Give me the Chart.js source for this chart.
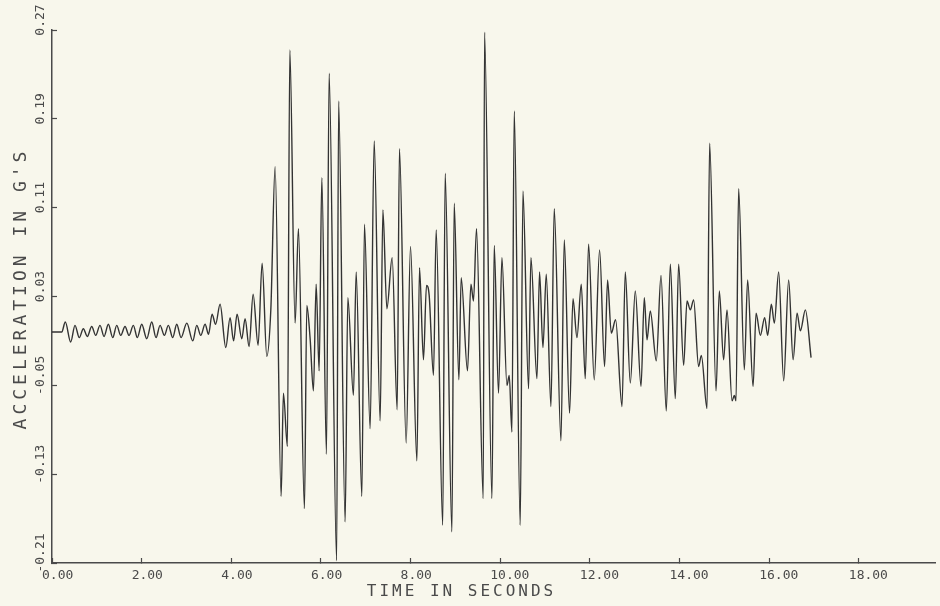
<!DOCTYPE html>
<html>
<head>
<meta charset="utf-8">
<script src="https://cdn.jsdelivr.net/npm/chart.js@4.4.1/dist/chart.umd.min.js"></script>
<style>
  html, body { margin: 0; padding: 0; background: #f8f7ec; }
  canvas { display: block; }
</style>
</head>
<body>
<canvas id="chart" width="940" height="606"></canvas>
<script>
// time (s) and acceleration (g) at the turning points
const times = [0, 0.217, 0.297, 0.417, 0.513, 0.609, 0.699, 0.788, 0.886, 0.975, 1.071, 1.161, 1.257, 1.355, 1.444, 1.533, 1.629, 1.719, 1.815, 1.904,
  2.002, 2.114, 2.225, 2.321, 2.411, 2.507, 2.596, 2.694, 2.783, 2.879, 3.007, 3.141, 3.230, 3.319, 3.415, 3.493, 3.571, 3.650, 3.750, 3.877,
  3.973, 4.051, 4.129, 4.234, 4.308, 4.397, 4.487, 4.598, 4.688, 4.792, 4.882, 4.978, 5.112, 5.163, 5.252, 5.306, 5.424, 5.498, 5.632, 5.685,
  5.759, 5.833, 5.893, 5.960, 6.020, 6.123, 6.183, 6.350, 6.395, 6.540, 6.600, 6.725, 6.786, 6.913, 6.971, 7.098, 7.188, 7.321, 7.382, 7.471,
  7.589, 7.701, 7.752, 7.902, 7.998, 8.141, 8.199, 8.288, 8.355, 8.415, 8.511, 8.571, 8.717, 8.772, 8.922, 8.973, 9.078, 9.129, 9.270, 9.346,
  9.404, 9.471, 9.621, 9.650, 9.815, 9.866, 9.962, 10.038, 10.150, 10.201, 10.261, 10.313, 10.446, 10.507, 10.632, 10.685, 10.819, 10.877, 10.953, 11.027,
  11.132, 11.205, 11.355, 11.429, 11.547, 11.623, 11.712, 11.808, 11.897, 11.971, 12.098, 12.217, 12.328, 12.395, 12.478, 12.574, 12.717, 12.790, 12.902, 13.013,
  13.141, 13.214, 13.275, 13.348, 13.482, 13.587, 13.705, 13.795, 13.906, 13.980, 14.092, 14.167, 14.241, 14.315, 14.426, 14.487, 14.614, 14.672, 14.815, 14.888,
  14.984, 15.060, 15.172, 15.223, 15.261, 15.319, 15.446, 15.520, 15.641, 15.708, 15.804, 15.900, 15.967, 16.049, 16.116, 16.212, 16.324, 16.435, 16.534, 16.623,
  16.696, 16.808, 16.935];

const accel = [-0.002, -0.002, 0.007, -0.011, 0.004, -0.007, 0.001, -0.006, 0.003, -0.005, 0.004, -0.006, 0.005, -0.007, 0.004, -0.005, 0.003, -0.005, 0.004, -0.007,
  0.005, -0.008, 0.007, -0.007, 0.004, -0.005, 0.004, -0.007, 0.005, -0.007, 0.006, -0.010, 0.004, -0.005, 0.005, -0.004, 0.014, 0.005, 0.023, -0.016,
  0.011, -0.010, 0.014, -0.008, 0.010, -0.015, 0.032, -0.014, 0.060, -0.024, 0.018, 0.147, -0.150, -0.057, -0.105, 0.252, 0.006, 0.091, -0.161, 0.022,
  -0.008, -0.055, 0.041, -0.037, 0.137, -0.112, 0.231, -0.208, 0.206, -0.173, 0.029, -0.059, 0.052, -0.150, 0.095, -0.089, 0.170, -0.082, 0.108, 0.019,
  0.065, -0.072, 0.163, -0.102, 0.075, -0.118, 0.056, -0.027, 0.040, 0.031, -0.041, 0.090, -0.176, 0.141, -0.182, 0.114, -0.045, 0.047, -0.037, 0.041,
  0.026, 0.091, -0.152, 0.268, -0.152, 0.076, -0.057, 0.065, -0.050, -0.041, -0.092, 0.197, -0.176, 0.125, -0.053, 0.065, -0.044, 0.052, -0.016, 0.050,
  -0.069, 0.109, -0.100, 0.081, -0.075, 0.028, -0.007, 0.041, -0.044, 0.077, -0.045, 0.072, -0.033, 0.045, -0.003, 0.009, -0.069, 0.052, -0.048, 0.035,
  -0.051, 0.029, -0.009, 0.017, -0.028, 0.049, -0.073, 0.059, -0.062, 0.059, -0.032, 0.026, 0.018, 0.027, -0.033, -0.023, -0.071, 0.168, -0.055, 0.035,
  -0.027, 0.018, -0.064, -0.059, -0.064, 0.127, -0.036, 0.045, -0.051, 0.015, -0.005, 0.011, -0.005, 0.023, 0.006, 0.052, -0.046, 0.045, -0.027, 0.015,
  -0.001, 0.018, -0.025];

const xTicks = [0, 2, 4, 6, 8, 10, 12, 14, 16, 18];
const yTicks = [-0.21, -0.13, -0.05, 0.03, 0.11, 0.19, 0.27];

const ink = "#4a4a4a";
const mono = "'DejaVu Sans Mono', 'Liberation Mono', monospace";

// plotter-style titles: wide letter spacing and a small shift
const titleTweaks = {
    x: { spacing: "3px", dx: -32, dy: 0 },
    y: { spacing: "4px", dx: 0, dy: -8 }
};

const plotterTitles = {
    id: "plotterTitles",
    beforeDraw(chart) {
        Object.keys(titleTweaks).forEach(id => {
            const scale = chart.scales[id];
            if (!scale || scale._tweaked) return;
            const tw = titleTweaks[id];
            const orig = scale.drawTitle.bind(scale);
            scale.drawTitle = function () {
                const ctx = chart.ctx;
                ctx.save();
                ctx.letterSpacing = tw.spacing;
                ctx.translate(tw.dx, tw.dy);
                orig();
                ctx.restore();
            };
            scale._tweaked = true;
        });
    }
};

Chart.defaults.color = ink;

new Chart(document.getElementById("chart"), {
    type: "line",
    data: {
        datasets: [{
            data: times.map((t, i) => ({ x: t, y: accel[i] })),
            borderColor: "#333333",
            borderWidth: 1.4,
            pointRadius: 0,
            fill: false,
            cubicInterpolationMode: "monotone"
        }]
    },
    options: {
        responsive: false,
        devicePixelRatio: 1,
        animation: false,
        layout: { padding: { top: 30, right: 5, left: 0, bottom: 0 } },
        plugins: {
            legend: { display: false },
            tooltip: { enabled: false }
        },
        scales: {
            x: {
                type: "linear",
                min: 0,
                max: 19.7,
                afterBuildTicks: s => { s.ticks = xTicks.map(v => ({ value: v })); },
                afterFit: s => { s.height = 43; },
                grid: { drawOnChartArea: false, tickLength: -5, tickColor: ink, tickWidth: 1.2 },
                border: { color: ink, width: 1.5 },
                ticks: {
                    autoSkip: false,
                    maxRotation: 0,
                    align: "start",
                    labelOffset: -10,
                    padding: 10,
                    font: { family: mono, size: 13 },
                    callback: v => v.toFixed(2)
                },
                title: {
                    display: true,
                    text: "TIME IN SECONDS",
                    font: { family: mono, size: 16 },
                    padding: { top: 0, bottom: 5 }
                }
            },
            y: {
                type: "linear",
                min: -0.21,
                max: 0.27,
                afterBuildTicks: s => { s.ticks = yTicks.map(v => ({ value: v })); },
                afterFit: s => { s.width = 52; },
                grid: { drawOnChartArea: false, tickLength: -5, tickColor: ink, tickWidth: 1.2 },
                border: { color: ink, width: 1.5 },
                ticks: {
                    autoSkip: false,
                    minRotation: 90,
                    maxRotation: 90,
                    crossAlign: "center",
                    padding: -3,
                    labelOffset: -10,
                    font: { family: mono, size: 13 },
                    callback: v => v.toFixed(2)
                },
                title: {
                    display: true,
                    text: "ACCELERATION IN G'S",
                    font: { family: mono, size: 18 },
                    padding: { top: 11, bottom: 0 }
                }
            }
        }
    },
    plugins: [plotterTitles]
});
</script>
</body>
</html>
